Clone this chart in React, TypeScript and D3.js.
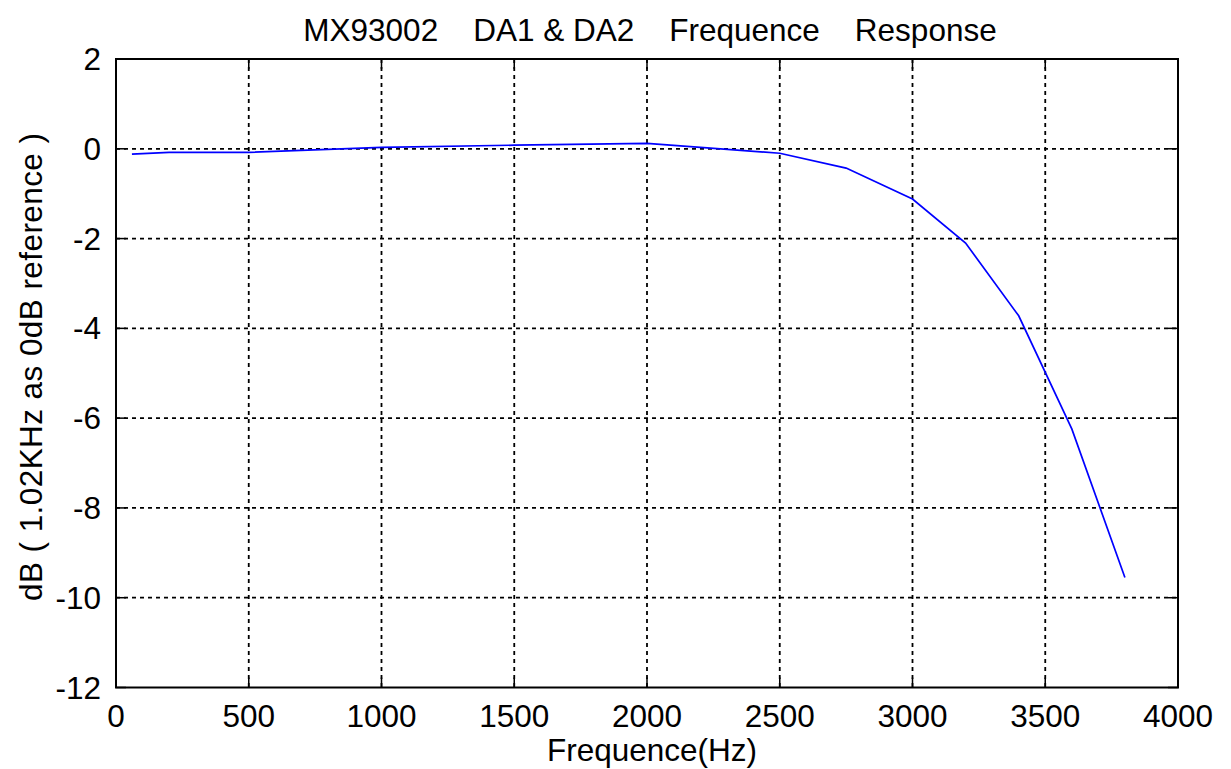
import React from "react";
import * as d3 from "d3";

const freqs = [60, 200, 500, 1000, 1500, 2000, 2500, 2750, 3000, 3200, 3400, 3600, 3800];
const gains = [-0.12, -0.08, -0.08, 0.03, 0.08, 0.12, -0.1, -0.43, -1.12, -2.1, -3.72, -6.24, -9.55];
const xTicks = [0, 500, 1000, 1500, 2000, 2500, 3000, 3500, 4000];
const yTicks = [2, 0, -2, -4, -6, -8, -10, -12];

const W = 1231;
const H = 769;
const L = 116, R = 1178, T = 59, B = 687.5;
const FONT = "'Liberation Sans', Arial, sans-serif";
const FS = 31.5;

export default function App() {
  const x = d3.scaleLinear().domain([0, 4000]).range([L, R]);
  const y = d3.scaleLinear().domain([-12, 2]).range([B, T]);
  const pts: [number, number][] = freqs.map((f, i) => [f, gains[i]]);
  const line = d3.line<[number, number]>().x(d => x(d[0])).y(d => y(d[1]));
  const tick = 10;
  return (
    <svg width={W} height={H} style={{ position: "absolute", left: 0, top: 0, background: "#fff" }}>
      <rect x={0} y={0} width={W} height={H} fill="#fff" />
      {xTicks.slice(1, -1).map(t => (
        <line key={"gx" + t} x1={x(t)} x2={x(t)} y1={T} y2={B} stroke="#000" strokeWidth={1.8} strokeDasharray="4 4" />
      ))}
      {yTicks.slice(1, -1).map(t => (
        <line key={"gy" + t} x1={L} x2={R} y1={y(t)} y2={y(t)} stroke="#000" strokeWidth={1.8} strokeDasharray="4 4" />
      ))}
      {xTicks.map(t => (
        <g key={"tx" + t}>
          <line x1={x(t)} x2={x(t)} y1={B} y2={B - tick} stroke="#000" strokeWidth={1.5} />
          <line x1={x(t)} x2={x(t)} y1={T} y2={T + tick} stroke="#000" strokeWidth={1.5} />
          <text x={x(t)} y={727} textAnchor="middle" fontFamily={FONT} fontSize={FS} fill="#000">{t}</text>
        </g>
      ))}
      {yTicks.map(t => (
        <g key={"ty" + t}>
          <line x1={L} x2={L + tick} y1={y(t)} y2={y(t)} stroke="#000" strokeWidth={1.5} />
          <line x1={R} x2={R - tick} y1={y(t)} y2={y(t)} stroke="#000" strokeWidth={1.5} />
          <text x={101} y={y(t) + 11} textAnchor="end" fontFamily={FONT} fontSize={FS} fill="#000">{t}</text>
        </g>
      ))}
      <rect x={L} y={T} width={R - L} height={B - T} fill="none" stroke="#000" strokeWidth={2} />
      <path d={line(pts) || ""} fill="none" stroke="#0000ff" strokeWidth={1.7} />
      <text x={650} y={41} textAnchor="middle" fontFamily={FONT} fontSize={FS} fill="#000" style={{ whiteSpace: "pre" }}>
        {"MX93002    DA1 & DA2    Frequence    Response"}
      </text>
      <text x={652} y={761} textAnchor="middle" fontFamily={FONT} fontSize={FS} fill="#000">Frequence(Hz)</text>
      <text transform={`translate(42, 367) rotate(-90)`} textAnchor="middle" fontFamily={FONT} fontSize={FS} fill="#000"
        textLength={468} lengthAdjust="spacing" style={{ whiteSpace: "pre" }}>
        {"dB ( 1.02KHz as 0dB reference )"}
      </text>
    </svg>
  );
}
